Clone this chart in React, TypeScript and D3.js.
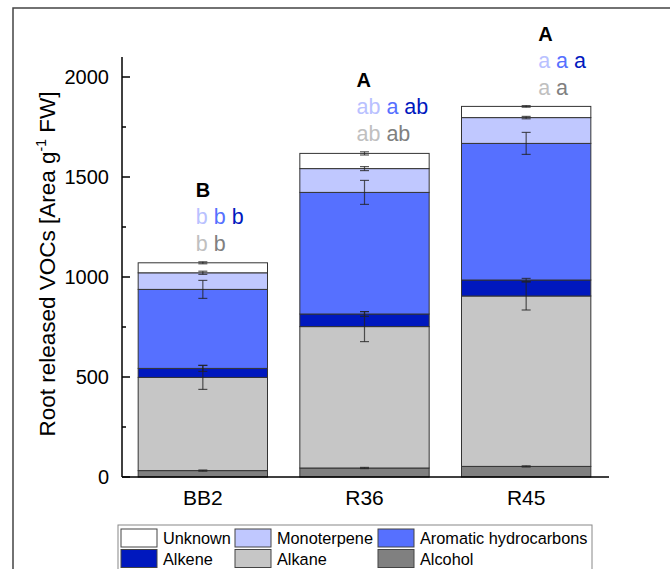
import React from 'react';
import * as d3 from 'd3';

const categories = ['BB2', 'R36', 'R45'];
// stack order, bottom to top
const seriesNames = ['Alcohol', 'Alkane', 'Alkene', 'Aromatic hydrocarbons', 'Monoterpene', 'Unknown'];
const alcohol = [32, 45, 53];
const alkane = [466, 707, 852];
const alkene = [45, 63, 80];
const aromatic = [395, 608, 683];
const monoterpene = [83, 119, 129];
const unknown = [50, 76, 56];

const alcoholErr = [3, 3, 3];
const alkaneErr = [60, 75, 70];
const alkeneErr = [15, 12, 8];
const aromaticErr = [45, 60, 55];
const monoterpeneErr = [8, 10, 6];
const unknownErr = [5, 8, 4];

const groupLetters = ['B', 'A', 'A'];
const blueLetters = [['b', 'b', 'b'], ['ab', 'a', 'ab'], ['a', 'a', 'a']];
const greyLetters = [['b', 'b'], ['ab', 'ab'], ['a', 'a']];

const yTicks = [0, 500, 1000, 1500, 2000];
const yMinorTicks = [250, 750, 1250, 1750];

const legendOrder = ['Unknown', 'Monoterpene', 'Aromatic hydrocarbons', 'Alkene', 'Alkane', 'Alcohol'];

const colors: Record<string, string> = {
  'Alcohol': '#808080',
  'Alkane': '#c6c6c6',
  'Alkene': '#0018be',
  'Aromatic hydrocarbons': '#5670ff',
  'Monoterpene': '#c0c8ff',
  'Unknown': '#ffffff',
};
const blueLetterColors = ['#b9c1ff', '#5670ff', '#0018be'];
const greyLetterColors = ['#c0c0c0', '#808080'];
const letterShift = [-7, -8, 12];

const font = 'Liberation Sans, Arial, sans-serif';

export default function App() {
  const width = 670;
  const height = 569;
  const margin = { left: 122, right: 63, top: 57, bottom: 92 };

  const values = [alcohol, alkane, alkene, aromatic, monoterpene, unknown];
  const errors = [alcoholErr, alkaneErr, alkeneErr, aromaticErr, monoterpeneErr, unknownErr];

  const rows = categories.map((c, i) => {
    const r: any = { cat: c };
    seriesNames.forEach((s, k) => (r[s] = values[k][i]));
    return r;
  });
  const stacked = d3.stack().keys(seriesNames)(rows);

  const x = d3.scaleBand()
    .domain(categories)
    .range([margin.left, width - margin.right])
    .paddingInner(0.2)
    .paddingOuter(0.1);

  const y = d3.scaleLinear()
    .domain([0, 2100])
    .range([height - margin.bottom, margin.top]);

  const bw = x.bandwidth();
  const capW = 9;

  return (
    <svg width={width} height={height} style={{ position: 'absolute', left: 0, top: 0 }} fontFamily={font}>
      <rect x={13} y={8} width={700} height={600} fill="white" stroke="#444" strokeWidth={1.5} />

      {stacked.map((layer) => (
        <g key={layer.key}>
          {layer.map((d, i) => (
            <rect
              key={i}
              x={x(categories[i])}
              y={y(d[1])}
              width={bw}
              height={y(d[0]) - y(d[1])}
              fill={colors[layer.key]}
              stroke="#333"
              strokeWidth={1}
            />
          ))}
        </g>
      ))}

      {stacked.map((layer, k) => (
        <g key={'e' + layer.key} stroke="#222" strokeOpacity={0.75} strokeWidth={1.2}>
          {layer.map((d, i) => {
            const cx = (x(categories[i]) as number) + bw / 2;
            const e = errors[k][i];
            const y1 = y(d[1] + e);
            const y2 = y(d[1] - e);
            return (
              <g key={i}>
                <line x1={cx} x2={cx} y1={y1} y2={y2} />
                <line x1={cx - capW / 2} x2={cx + capW / 2} y1={y1} y2={y1} />
                <line x1={cx - capW / 2} x2={cx + capW / 2} y1={y2} y2={y2} />
              </g>
            );
          })}
        </g>
      ))}

      {categories.map((c, i) => {
        const top = stacked[stacked.length - 1][i][1];
        const base = y(top + unknownErr[i]) - 11;
        const lx = (x(c) as number) + bw / 2 + letterShift[i];
        return (
          <g key={'l' + c} fontSize={21.5}>
            <text x={lx} y={base - 54} fontWeight="bold" fontSize={20} fill="#000">{groupLetters[i]}</text>
            <text x={lx} y={base - 27}>
              {blueLetters[i].map((t, j) => (
                <tspan key={j} fill={blueLetterColors[j]}>{(j > 0 ? ' ' : '') + t}</tspan>
              ))}
            </text>
            <text x={lx} y={base}>
              {greyLetters[i].map((t, j) => (
                <tspan key={j} fill={greyLetterColors[j]}>{(j > 0 ? ' ' : '') + t}</tspan>
              ))}
            </text>
          </g>
        );
      })}

      {/* axes */}
      <line x1={margin.left} x2={margin.left} y1={y(2100)} y2={y(0)} stroke="#000" strokeWidth={1.5} />
      <line x1={margin.left} x2={width - margin.right + 2} y1={y(0)} y2={y(0)} stroke="#000" strokeWidth={1.5} />
      {yTicks.map((t) => (
        <g key={t}>
          <line x1={margin.left} x2={margin.left + 8} y1={y(t)} y2={y(t)} stroke="#000" strokeWidth={1.5} />
          <text x={margin.left - 13} y={y(t)} dy="0.35em" textAnchor="end" fontSize={20}>{t}</text>
        </g>
      ))}
      {yMinorTicks.map((t) => (
        <line key={t} x1={margin.left} x2={margin.left + 4} y1={y(t)} y2={y(t)} stroke="#000" strokeWidth={1.5} />
      ))}
      {categories.map((c) => (
        <text key={c} x={(x(c) as number) + bw / 2} y={y(0) + 28} textAnchor="middle" fontSize={21}>{c}</text>
      ))}
      <text
        transform={`translate(55,264) rotate(-90)`}
        textAnchor="middle"
        fontSize={22.5}
      >
        Root released VOCs [Area g<tspan dy={-9} fontSize={14}>-1</tspan><tspan dy={9}> FW]</tspan>
      </text>

      {/* legend */}
      <rect x={118} y={525} width={474} height={60} fill="white" stroke="#888" strokeWidth={1} />
      {legendOrder.map((s, i) => {
        const colX = [121, 235, 378][i % 3];
        const rowY = 529 + Math.floor(i / 3) * 20.5;
        return (
          <g key={s}>
            <rect x={colX} y={rowY} width={36} height={18} fill={colors[s]} stroke="#444" strokeWidth={1} />
            <text x={colX + 42} y={rowY + 15} fontSize={16.3}>{s}</text>
          </g>
        );
      })}
    </svg>
  );
}
